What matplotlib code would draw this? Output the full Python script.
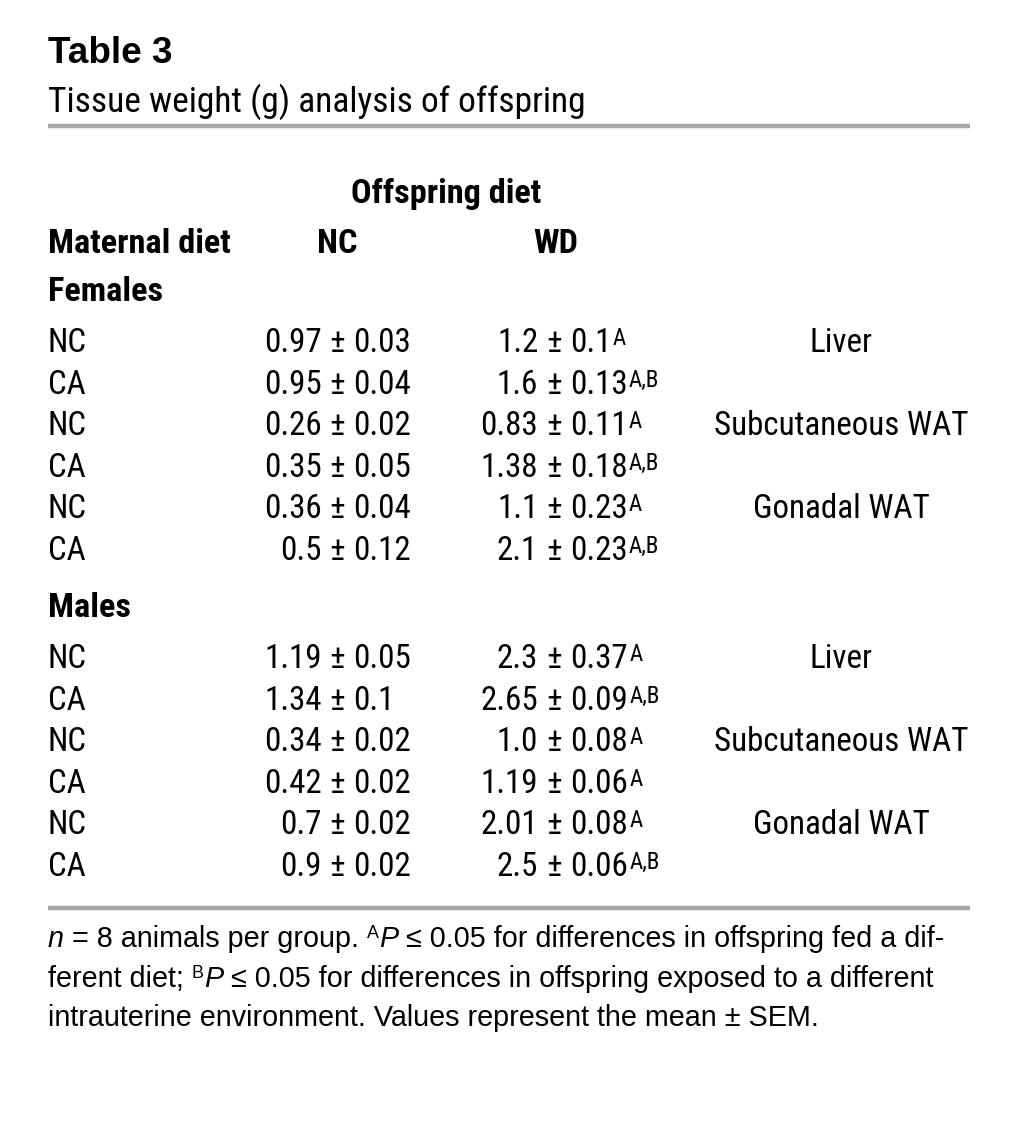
import matplotlib
matplotlib.use("Agg")
import matplotlib.pyplot as plt
from matplotlib import font_manager as fm

# ---- table content ----
maternal = ["NC", "CA", "NC", "CA", "NC", "CA"]
tissues = ["Liver", "Subcutaneous WAT", "Gonadal WAT"]

female_nc_mean = ["0.97", "0.95", "0.26", "0.35", "0.36", "0.5"]
female_nc_sem = ["0.03", "0.04", "0.02", "0.05", "0.04", "0.12"]
female_wd_mean = ["1.2", "1.6", "0.83", "1.38", "1.1", "2.1"]
female_wd_sem = ["0.1", "0.13", "0.11", "0.18", "0.23", "0.23"]
female_wd_sig = ["A", "A,B", "A", "A,B", "A", "A,B"]

male_nc_mean = ["1.19", "1.34", "0.34", "0.42", "0.7", "0.9"]
male_nc_sem = ["0.05", "0.1", "0.02", "0.02", "0.02", "0.02"]
male_wd_mean = ["2.3", "2.65", "1.0", "1.19", "2.01", "2.5"]
male_wd_sem = ["0.37", "0.09", "0.08", "0.06", "0.08", "0.06"]
male_wd_sig = ["A", "A,B", "A", "A", "A", "A,B"]


# ---- fonts: a condensed sans with static regular + bold, else DejaVu condensed ----
def static_weights(name):
    return {f.weight for f in fm.fontManager.ttflist
            if f.name == name and f.style == "normal" and "[" not in f.fname}


NARROW, STRETCH = "DejaVu Sans", "condensed"
for cand in ["Roboto Condensed", "Liberation Sans Narrow"]:
    w = static_weights(cand)
    if 400 in w and 700 in w:
        NARROW, STRETCH = cand, "normal"
        break
SANS = "Liberation Sans"

W, H = 1018, 1145
fig = plt.figure(figsize=(W / 100, H / 100), dpi=100)
ax = fig.add_axes([0, 0, 1, 1])
ax.set_xlim(0, W)
ax.set_ylim(H, 0)
ax.axis("off")
renderer = fig.canvas.get_renderer()


def width(t):
    return t.get_window_extent(renderer).width


def fit(text, target, **kw):
    # font size that makes `text` span `target` pixels
    t = ax.text(0, 0, text, fontsize=20, **kw)
    w = width(t)
    t.remove()
    return 20 * target / w


nfam = [NARROW, "DejaVu Sans"]
data_size = fit("Subcutaneous WAT", 254, family=nfam, stretch=STRETCH)
bold_size = fit("Maternal diet", 182, family=nfam, stretch=STRETCH, weight="bold")
sub_size = fit("Tissue weight (g) analysis of offspring", 537, family=nfam, stretch=STRETCH)
title_size = fit("Table 3", 124, family=[SANS, "DejaVu Sans"], weight="bold")
foot_size = fit("intrauterine environment. Values represent the mean \u00b1 SEM.", 770,
                family=[SANS, "DejaVu Sans"])

DATA = dict(family=nfam, stretch=STRETCH, fontsize=data_size, color="black")
BOLD = dict(family=nfam, stretch=STRETCH, fontsize=bold_size, weight="bold", color="black")
SUP = dict(family=nfam, stretch=STRETCH, fontsize=data_size * 0.7, color="black")
FOOT = dict(family=[SANS, "DejaVu Sans"], fontsize=foot_size, color="black")
FOOT_IT = dict(FOOT, style="italic")
FOOT_SUP = dict(FOOT, fontsize=foot_size * 0.62)
RULE = "#a8a8a8"

LEFT, RIGHT = 48, 970
TISSUE_X = 841
PM_GAP = 8


def put(x, y, s, **kw):
    return ax.text(x, y, s, va="baseline", **kw)


def text_w(s, style):
    t = put(0, 0, s, **style)
    w = width(t)
    t.remove()
    return w


pm_w = text_w("\u00b1", DATA)
# "±"-aligned columns: NC values end at 411, WD "1.2" starts at 497
NC_ANCHOR = 411 - (2 * PM_GAP + pm_w + text_w("0.03", DATA))
WD_ANCHOR = 497 + text_w("1.2", DATA)
sup_rise = data_size * 1.389 * 0.71 * 0.3


def value_cell(anchor, y, mean, sem, sig=None):
    put(anchor, y, mean, ha="right", **DATA)
    put(anchor + PM_GAP, y, "\u00b1", ha="left", **DATA)
    t = put(anchor + 2 * PM_GAP + pm_w, y, sem, ha="left", **DATA)
    if sig:
        x_end = anchor + 2 * PM_GAP + pm_w + width(t)
        put(x_end + 1.5, y - sup_rise, sig, ha="left", **SUP)


def chain(x, y, pieces):
    for s, kind in pieces:
        if kind == "gap":
            x += s
            continue
        style = {"reg": FOOT, "it": FOOT_IT, "sup": FOOT_SUP}[kind]
        dy = -foot_size * 0.42 if kind == "sup" else 0
        t = put(x, y + dy, s, ha="left", **style)
        x += width(t)


# ---- title block ----
put(LEFT, 63, "Table 3", ha="left", family=[SANS, "DejaVu Sans"], fontsize=title_size, weight="bold")
put(LEFT, 112, "Tissue weight (g) analysis of offspring", ha="left",
    family=nfam, stretch=STRETCH, fontsize=sub_size)
ax.plot([LEFT, RIGHT], [126, 126], color=RULE, lw=3.2, solid_capstyle="butt")

# ---- headers ----
put(446, 203, "Offspring diet", ha="center", **BOLD)
put(LEFT, 253, "Maternal diet", ha="left", **BOLD)
put(337, 253, "NC", ha="center", **BOLD)
put(556, 253, "WD", ha="center", **BOLD)


def section(title, y_title, y0, nc_mean, nc_sem, wd_mean, wd_sem, wd_sig):
    put(LEFT, y_title, title, ha="left", **BOLD)
    step = 41.6
    for i in range(len(maternal)):
        y = y0 + i * step
        put(LEFT, y, maternal[i], ha="left", **DATA)
        value_cell(NC_ANCHOR, y, nc_mean[i], nc_sem[i])
        value_cell(WD_ANCHOR, y, wd_mean[i], wd_sem[i], wd_sig[i])
        if i % 2 == 0:
            put(TISSUE_X, y, tissues[i // 2], ha="center", **DATA)


section("Females", 301, 352, female_nc_mean, female_nc_sem,
        female_wd_mean, female_wd_sem, female_wd_sig)
section("Males", 617, 668, male_nc_mean, male_nc_sem,
        male_wd_mean, male_wd_sem, male_wd_sig)

ax.plot([LEFT, RIGHT], [908, 908], color=RULE, lw=3.2, solid_capstyle="butt")

# ---- footnote ----
gap = foot_size * 1.389 * 0.278
chain(LEFT, 947, [("n", "it"), (" = 8 animals per group.", "reg"), (gap, "gap"),
                  ("A", "sup"), ("P", "it"),
                  (" \u2264 0.05 for differences in offspring fed a dif-", "reg")])
chain(LEFT, 987, [("ferent diet;", "reg"), (gap, "gap"), ("B", "sup"), ("P", "it"),
                  (" \u2264 0.05 for differences in offspring exposed to a different", "reg")])
chain(LEFT, 1026, [("intrauterine environment. Values represent the mean \u00b1 SEM.", "reg")])

fig.savefig("out.png", dpi=100, facecolor="white")
